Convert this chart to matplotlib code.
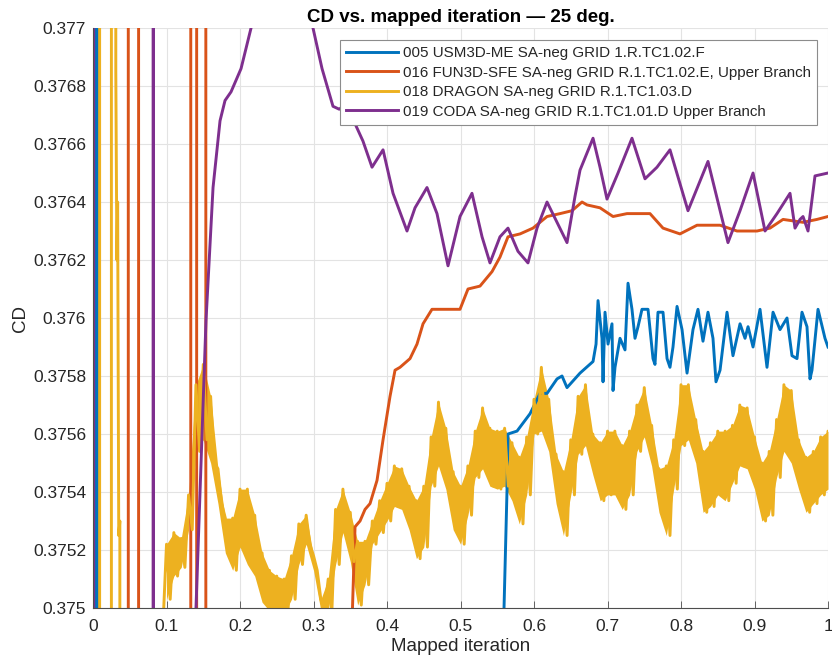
import numpy as np
import matplotlib
matplotlib.use("Agg")
import matplotlib.pyplot as plt
from matplotlib.ticker import FuncFormatter

plt.rcParams['font.family'] = ['Liberation Sans', 'DejaVu Sans']

labels = [
    "005 USM3D-ME SA-neg GRID 1.R.TC1.02.F",
    "016 FUN3D-SFE SA-neg GRID R.1.TC1.02.E, Upper Branch",
    "018 DRAGON SA-neg GRID R.1.TC1.03.D",
    "019 CODA SA-neg GRID R.1.TC1.01.D Upper Branch",
]
colors = ["#0072BD", "#D95319", "#EDB120", "#7E2F8E"]

# 005 USM3D (early values are far off scale)
usm_x = [0.0, 0.004, 0.005, 0.0065, 0.0075, 0.558, 0.5592, 0.5633, 0.5646, 0.5769, 0.5946,
         0.6082, 0.6177, 0.6313, 0.6381, 0.6449, 0.6626, 0.6803, 0.6844, 0.6871, 0.6925,
         0.6939, 0.6966, 0.7007, 0.7061, 0.7075, 0.7102, 0.7170, 0.7238, 0.7279, 0.7333,
         0.7374, 0.7415, 0.7469, 0.7551, 0.7619, 0.7646, 0.7687, 0.7755, 0.7810, 0.7850,
         0.7891, 0.7946, 0.8014, 0.8082, 0.8163, 0.8231, 0.8299, 0.8367, 0.8435, 0.8476,
         0.8531, 0.8626, 0.8707, 0.8803, 0.8871, 0.8912, 0.8980, 0.9075, 0.9170, 0.9252,
         0.9347, 0.9442, 0.9510, 0.9578, 0.9646, 0.9714, 0.9755, 0.9782, 0.9864, 0.9959, 1.0]
usm_y = [0.45, 0.45, 0.30, 0.45, 0.30, 0.3740, 0.37500, 0.37541, 0.37560, 0.37561, 0.37567,
         0.37574, 0.37574, 0.37579, 0.37580, 0.37576, 0.37581, 0.37585, 0.37591, 0.37606, 0.37593,
         0.37578, 0.37602, 0.37591, 0.37598, 0.37575, 0.37583, 0.37593, 0.37589, 0.37612, 0.37603,
         0.37593, 0.37597, 0.37603, 0.37603, 0.37586, 0.37584, 0.37602, 0.37602, 0.37586, 0.37583,
         0.37590, 0.37604, 0.37596, 0.37581, 0.37596, 0.37603, 0.37592, 0.37602, 0.37593, 0.37578,
         0.37582, 0.37602, 0.37587, 0.37598, 0.37593, 0.37597, 0.37590, 0.37603, 0.37583, 0.37602,
         0.37596, 0.37600, 0.37587, 0.37586, 0.37602, 0.37597, 0.37579, 0.37582, 0.37603, 0.37593, 0.37590]

# 016 FUN3D-SFE
fun_x = [0.0, 0.0475, 0.0485, 0.0615, 0.0625, 0.1325, 0.1335, 0.1405, 0.1415, 0.153, 0.154,
         0.3515, 0.3524, 0.3565, 0.3633, 0.3701, 0.3769, 0.3864, 0.3946, 0.4041, 0.4109,
         0.4177, 0.4313, 0.4408, 0.4490, 0.4612, 0.4857, 0.4993, 0.5102, 0.5265, 0.5429,
         0.5537, 0.5646, 0.5810, 0.5986, 0.6177, 0.6354, 0.6517, 0.6653, 0.6721, 0.6898,
         0.7075, 0.7265, 0.7442, 0.7578, 0.7755, 0.7986, 0.8218, 0.8531, 0.8762, 0.9034,
         0.9211, 0.9388, 0.9660, 0.9850, 1.0]
fun_y = [0.45, 0.45, 0.30, 0.30, 0.45, 0.45, 0.30, 0.30, 0.45, 0.45, 0.30,
         0.30, 0.37495, 0.37528, 0.37530, 0.37534, 0.37536, 0.37544, 0.37558, 0.37573, 0.37582,
         0.37583, 0.37586, 0.37591, 0.37598, 0.37603, 0.37603, 0.37603, 0.37610, 0.37611, 0.37616,
         0.37621, 0.37628, 0.37629, 0.37631, 0.37635, 0.37636, 0.37637, 0.37640, 0.37639, 0.37638,
         0.37635, 0.37636, 0.37636, 0.37636, 0.37631, 0.37629, 0.37632, 0.37632, 0.37630, 0.37630,
         0.37631, 0.37634, 0.37633, 0.37634, 0.37635]

# 018 DRAGON: early off-scale swings, then peaks / troughs of the fast oscillation
drg_start_x = [0.0, 0.0085, 0.0095, 0.0245, 0.0255, 0.030, 0.031, 0.0325, 0.0335, 0.035,
               0.0365, 0.0375, 0.0935, 0.0945]
drg_start_y = [0.45, 0.45, 0.30, 0.30, 0.45, 0.45, 0.37685, 0.37620, 0.37640, 0.37525,
               0.37530, 0.30, 0.30, 0.37490]
drg_peak = [0.37522, 0.37526, 0.37524, 0.37539, 0.37577, 0.37584, 0.37573, 0.37548, 0.37531, 0.37531,
            0.37541, 0.37541, 0.37532, 0.37519, 0.37513, 0.37511, 0.37510, 0.37518, 0.37529, 0.37532,
            0.37518, 0.37503, 0.37510, 0.37534, 0.37541, 0.37533, 0.37523, 0.37523, 0.37530, 0.37537,
            0.37543, 0.37549, 0.37548, 0.37542, 0.37537, 0.37542, 0.37559, 0.37571, 0.37562, 0.37547,
            0.37542, 0.37549, 0.37561, 0.37569, 0.37562, 0.37561, 0.37562, 0.37557, 0.37552, 0.37559,
            0.37572, 0.37583, 0.37572, 0.37553, 0.37547, 0.37558, 0.37573, 0.37577, 0.37560, 0.37557,
            0.37561, 0.37561, 0.37556, 0.37561, 0.37570, 0.37576, 0.37563, 0.37548, 0.37549, 0.37558,
            0.37577, 0.37577, 0.37565, 0.37554, 0.37557, 0.37561, 0.37561, 0.37563, 0.37570, 0.37569,
            0.37559, 0.37550, 0.37554, 0.37565, 0.37577, 0.37575, 0.37558, 0.37552, 0.37554, 0.37559,
            0.37561]
drg_trough = [0.37503, 0.37511, 0.37514, 0.37527, 0.37554, 0.37558, 0.37550, 0.37536, 0.37519, 0.37513,
              0.37521, 0.37515, 0.37511, 0.37502, 0.37499, 0.37498, 0.37498, 0.37503, 0.37515, 0.37522,
              0.37513, 0.37499, 0.37499, 0.37515, 0.37526, 0.37516, 0.37501, 0.37508, 0.37522, 0.37526,
              0.37530, 0.37535, 0.37534, 0.37527, 0.37517, 0.37521, 0.37542, 0.37549, 0.37541, 0.37527,
              0.37522, 0.37532, 0.37545, 0.37548, 0.37542, 0.37541, 0.37542, 0.37537, 0.37529, 0.37539,
              0.37560, 0.37561, 0.37554, 0.37536, 0.37525, 0.37539, 0.37553, 0.37556, 0.37546, 0.37537,
              0.37539, 0.37539, 0.37534, 0.37539, 0.37554, 0.37559, 0.37549, 0.37533, 0.37525, 0.37541,
              0.37556, 0.37558, 0.37550, 0.37533, 0.37535, 0.37539, 0.37537, 0.37543, 0.37549, 0.37548,
              0.37541, 0.37530, 0.37532, 0.37545, 0.37554, 0.37550, 0.37541, 0.37533, 0.37536, 0.37539,
              0.37541]

# 019 CODA
coda_x = [0.0, 0.002, 0.0815, 0.082, 0.0825, 0.1401, 0.1537, 0.1633, 0.1728, 0.1796, 0.1878,
          0.2014, 0.2150, 0.255, 0.2993, 0.3116, 0.3265, 0.335, 0.345, 0.3565, 0.3673, 0.3796,
          0.3946, 0.4082, 0.4272, 0.4381, 0.4544, 0.4680, 0.4830, 0.4993, 0.5156, 0.5293,
          0.5401, 0.5537, 0.5646, 0.5782, 0.5918, 0.6041, 0.6177, 0.6313, 0.6449, 0.6558,
          0.6626, 0.6803, 0.6898, 0.6993, 0.7143, 0.7333, 0.7510, 0.7673, 0.7850, 0.8095,
          0.8367, 0.8639, 0.8803, 0.8980, 0.9143, 0.9306, 0.9483, 0.9551, 0.9619, 0.9660,
          0.9728, 0.9823, 1.0]
coda_y = [0.45, 0.30, 0.30, 0.45, 0.30, 0.37500, 0.37599, 0.37645, 0.37668, 0.37675, 0.37678,
          0.37686, 0.37700, 0.37750, 0.37700, 0.37686, 0.37673, 0.37672, 0.37674, 0.37667, 0.37661, 0.37652,
          0.37658, 0.37643, 0.37630, 0.37638, 0.37645, 0.37636, 0.37618, 0.37635, 0.37643, 0.37628,
          0.37619, 0.37628, 0.37631, 0.37623, 0.37619, 0.37631, 0.37640, 0.37633, 0.37626, 0.37642,
          0.37651, 0.37662, 0.37652, 0.37641, 0.37650, 0.37662, 0.37648, 0.37652, 0.37658, 0.37637,
          0.37654, 0.37626, 0.37637, 0.37650, 0.37630, 0.37636, 0.37643, 0.37631, 0.37634, 0.37635,
          0.37630, 0.37649, 0.37650]


def zigzag(peaks, troughs, xs):
    zx, zy = [], []
    for i in range(len(peaks)):
        zx += [xs[i], xs[i] + 0.005]
        zy += [peaks[i], troughs[i]]
    return zx, zy


drg_grid = list(np.linspace(0.10, 1.0, len(drg_peak)))
zx, zy = zigzag(drg_peak, drg_trough, drg_grid)
drg_x = drg_start_x + zx
drg_y = drg_start_y + zy

fig = plt.figure(figsize=(8.32, 6.61), dpi=100)
ax = fig.add_axes([0.1118, 0.0802, 0.8834, 0.8774])

lw = 2.1
ax.plot(usm_x, usm_y, color=colors[0], lw=lw, label=labels[0])
ax.plot(fun_x, fun_y, color=colors[1], lw=lw, label=labels[1])
# the fast DRAGON oscillation reads as a solid band between its troughs and peaks
ax.fill_between(drg_grid, drg_trough, drg_peak, color=colors[2], lw=0)
ax.plot(drg_x, drg_y, color=colors[2], lw=lw, label=labels[2])
ax.plot(coda_x, coda_y, color=colors[3], lw=lw, label=labels[3])

ax.set_xlim(0, 1)
ax.set_ylim(0.375, 0.377)
ax.set_xticks(np.linspace(0, 1, 11))
ax.set_yticks(np.linspace(0.375, 0.377, 11))
ax.xaxis.set_major_formatter(FuncFormatter(lambda v, p: ('%.1f' % v).rstrip('0').rstrip('.')))
ax.yaxis.set_major_formatter(FuncFormatter(lambda v, p: ('%.4f' % v).rstrip('0').rstrip('.')))

ax.grid(True, color='#e3e3e3', lw=0.8)
ax.set_axisbelow(True)
for s in ['top', 'right']:
    ax.spines[s].set_visible(False)
for s in ['left', 'bottom']:
    ax.spines[s].set_color('#4d4d4d')
    ax.spines[s].set_linewidth(0.8)
ax.tick_params(direction='in', length=5, width=0.6, colors='#4d4d4d', labelsize=12.5,
               labelcolor='#262626')
ax.tick_params(axis='x', pad=8)
ax.tick_params(axis='y', pad=5)

ax.set_xlabel("Mapped iteration", fontsize=13.5, color='#262626', labelpad=3)
ax.set_ylabel("CD", fontsize=13.5, color='#262626', labelpad=3)
ax.set_title("CD vs. mapped iteration \u2014 25 deg.", fontsize=13.5, fontweight='bold', pad=4)

leg = ax.legend(loc='upper right', bbox_to_anchor=(0.985, 0.979), borderaxespad=0,
                fontsize=10.9, fancybox=False, framealpha=1, edgecolor='#8c8c8c',
                handlelength=3.4, handletextpad=0.35, labelspacing=0.36, borderpad=0.4)
leg.get_frame().set_linewidth(0.8)
for t in leg.get_texts():
    t.set_color('#262626')

fig.savefig("out.png", dpi=100)
